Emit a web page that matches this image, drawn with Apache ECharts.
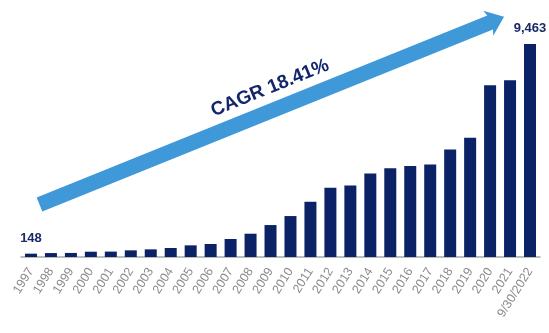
<!DOCTYPE html>
<html>
<head>
<meta charset="utf-8">
<script src="https://cdn.jsdelivr.net/npm/echarts@6/dist/echarts.min.js"></script>
<style>html,body{margin:0;padding:0;background:#fff}#c{width:549px;height:333px}</style>
</head>
<body>
<div id="c"></div>
<script>
var categories = ['1997','1998','1999','2000','2001','2002','2003','2004','2005','2006','2007','2008','2009','2010','2011','2012','2013','2014','2015','2016','2017','2018','2019','2020','2021','9/30/2022'];
var values = [148,175,180,235,240,296,340,400,518,577,800,1035,1420,1820,2455,3077,3183,3716,3939,4040,4115,4782,5297,7637,7860,9463];
var labeledIdx = [0, values.length - 1];
var cagrText = 'CAGR 18.41%';

var chart = echarts.init(document.getElementById('c'), null, {renderer: 'canvas'});

// Arrow geometry (annotation, in pixels)
var ang = 22 * Math.PI / 180;
var tail = [39.5, 204.5], len = 501, halfW = 7.5, headLen = 15, headHalf = 13.5;
var d = [Math.cos(ang), -Math.sin(ang)], n = [Math.sin(ang), Math.cos(ang)];
function pt(a, b) { return [tail[0] + d[0]*a + n[0]*b, tail[1] + d[1]*a + n[1]*b]; }
var arrowPts = [pt(0,-halfW), pt(len-headLen,-halfW), pt(len-headLen-2,-headHalf), pt(len,0), pt(len-headLen-2,headHalf), pt(len-headLen,halfW), pt(0,halfW)];

var data = values.map(function (v, i) {
  return {value: v, label: {show: labeledIdx.indexOf(i) >= 0}};
});

chart.setOption({
  animation: false,
  grid: {left: 21, right: 9, top: 32, bottom: 76, containLabel: false},
  xAxis: {
    type: 'category',
    data: categories,
    axisLine: {lineStyle: {color: '#a6a6a6', width: 1.5}},
    axisTick: {alignWithLabel: true, length: 6, lineStyle: {color: '#a6a6a6', width: 1.5}},
    axisLabel: {rotate: 58, color: '#8c8c8c', fontSize: 12.5, fontFamily: 'Liberation Sans, Arial, sans-serif', interval: 0, margin: 12}
  },
  yAxis: {type: 'value', min: 0, max: 10000, show: false, splitLine: {show: false}},
  series: [{
    type: 'bar',
    data: data,
    barWidth: 12,
    itemStyle: {color: '#0b2266'},
    label: {
      position: 'top', distance: 9, color: '#1a2a66', fontWeight: 'bold', fontSize: 13,
      fontFamily: 'Liberation Sans, Arial, sans-serif',
      formatter: function (p) { return p.value.toLocaleString('en-US'); }
    }
  }],
  graphic: [
    {type: 'polygon', shape: {points: arrowPts}, style: {fill: '#3f98d8'}, z: 1},
    {type: 'text', x: 270, y: 88, rotation: ang, z: 2,
     style: {text: cagrText, fill: '#13256b', font: 'bold 19px "Liberation Sans", Arial, sans-serif', align: 'center', verticalAlign: 'middle'}}
  ]
});
</script>
</body>
</html>
